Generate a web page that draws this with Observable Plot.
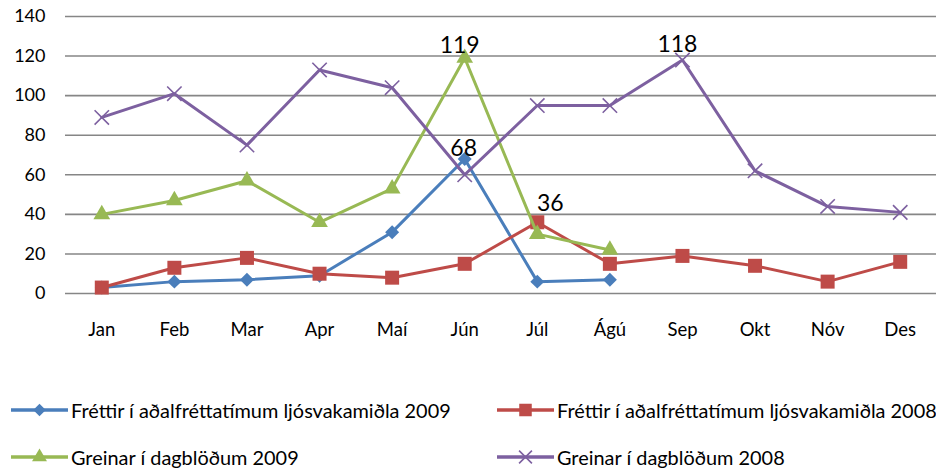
<!DOCTYPE html>
<html><head><meta charset="utf-8">
<script src="https://cdn.jsdelivr.net/npm/d3@7"></script>
<script src="https://cdn.jsdelivr.net/npm/@observablehq/plot@0.6"></script>
<style>
body{margin:0;background:#fff;font-family:Lato,"Open Sans",sans-serif;overflow:hidden;}
#chart svg{display:block;}
#legend{position:relative;width:936px;height:120px;font-size:19.9px;color:#000;}
.item{position:absolute;display:flex;align-items:center;white-space:nowrap;height:24px;}
.item svg{margin-right:3px;display:block;}
</style></head>
<body><div id="chart"></div><div id="legend"></div>
<script>
const months = ["Jan","Feb","Mar","Apr","Maí","Jún","Júl","Ágú","Sep","Okt","Nóv","Des"];
const seriesNames = [
  "Fréttir í aðalfréttatímum ljósvakamiðla 2009",
  "Fréttir í aðalfréttatímum ljósvakamiðla 2008",
  "Greinar í dagblöðum 2009",
  "Greinar í dagblöðum 2008"
];
const frettir2009 = [3,6,7,9,31,68,6,7];
const frettir2008 = [3,13,18,10,8,15,36,15,19,14,6,16];
const greinar2009 = [40,47,57,36,53,119,30,22];
const greinar2008 = [89,101,75,113,104,60,95,95,118,62,44,41];
const yTicks = [0,20,40,60,80,100,120,140];
const labelSeries = [2,0,1,3];
const labelMonths = ["Jún","Jún","Júl","Sep"];
const labelValues = [119,68,36,118];

const colors = ["#4a7ebb","#be4b48","#98b954","#7d60a0"];
const symbols = ["diamond2","square","triangle","times"];
const radii = [6.3,7.9,6.2,6.6];
// label offsets (dx, dy) in pixels, styling only
const labelOffsets = [[-5,-12],[-1,-10],[13,-19],[-5,-15]];

const all = [frettir2009,frettir2008,greinar2009,greinar2008];
const rows = all.flatMap((arr,s)=>arr.map((v,i)=>({series:s,month:months[i],value:v})));

const marks = [
  Plot.gridY(yTicks,{stroke:"#868686",strokeOpacity:1,strokeWidth:1.6}),
  Plot.axisY(yTicks,{tickSize:0,tickPadding:20,fontSize:18,tickFormat:d=>d}),
  Plot.axisX({tickSize:0,tickPadding:29,fontSize:18.5}),
];
all.forEach((arr,s)=>{
  const d = rows.filter(r=>r.series===s);
  marks.push(Plot.line(d,{x:"month",y:"value",stroke:colors[s],strokeWidth:3}));
  if (symbols[s]==="times") {
    marks.push(Plot.dot(d,{x:"month",y:"value",symbol:"times",r:radii[s],stroke:colors[s],strokeWidth:1.6}));
  } else {
    marks.push(Plot.dot(d,{x:"month",y:"value",symbol:symbols[s],r:radii[s],fill:colors[s],stroke:"none"}));
  }
});
labelValues.forEach((v,i)=>{
  marks.push(Plot.text([{month:labelMonths[i],value:v}],{x:"month",y:"value",text:d=>String(d.value),
    dx:labelOffsets[i][0],dy:labelOffsets[i][1],fontSize:23,fill:"#000"}));
});

const chart = Plot.plot({
  width:936,height:350,
  marginTop:16,marginBottom:57,marginLeft:65,marginRight:0,
  style:{fontFamily:"Lato, 'Open Sans', sans-serif",color:"#000",background:"#fff"},
  x:{type:"point",domain:months,padding:0.5,round:false,label:null},
  y:{domain:[0,140],label:null},
  marks
});
document.getElementById("chart").appendChild(chart);

const legend = document.getElementById("legend");
const pos = [[11,60],[497,60],[11,107],[497,107]];
const symMap = {diamond2:d3.symbolDiamond2,square:d3.symbolSquare,triangle:d3.symbolTriangle,times:d3.symbolTimes};
seriesNames.forEach((n,s)=>{
  const div = document.createElement("div");
  div.className="item";
  div.style.left=pos[s][0]+"px";
  div.style.top=(pos[s][1]-12)+"px";
  const p = d3.symbol(symMap[symbols[s]], Math.PI*radii[s]*radii[s]*0.8)();
  const isX = symbols[s]==="times";
  div.innerHTML = `<svg width="57" height="24"><line x1="0" x2="57" y1="12" y2="12" stroke="${colors[s]}" stroke-width="3.5"/><path transform="translate(28.5,12)" d="${p}" fill="${isX?'none':colors[s]}" stroke="${isX?colors[s]:'none'}" stroke-width="1.6"/></svg><span>${n}</span>`;
  legend.appendChild(div);
});
</script></body></html>
